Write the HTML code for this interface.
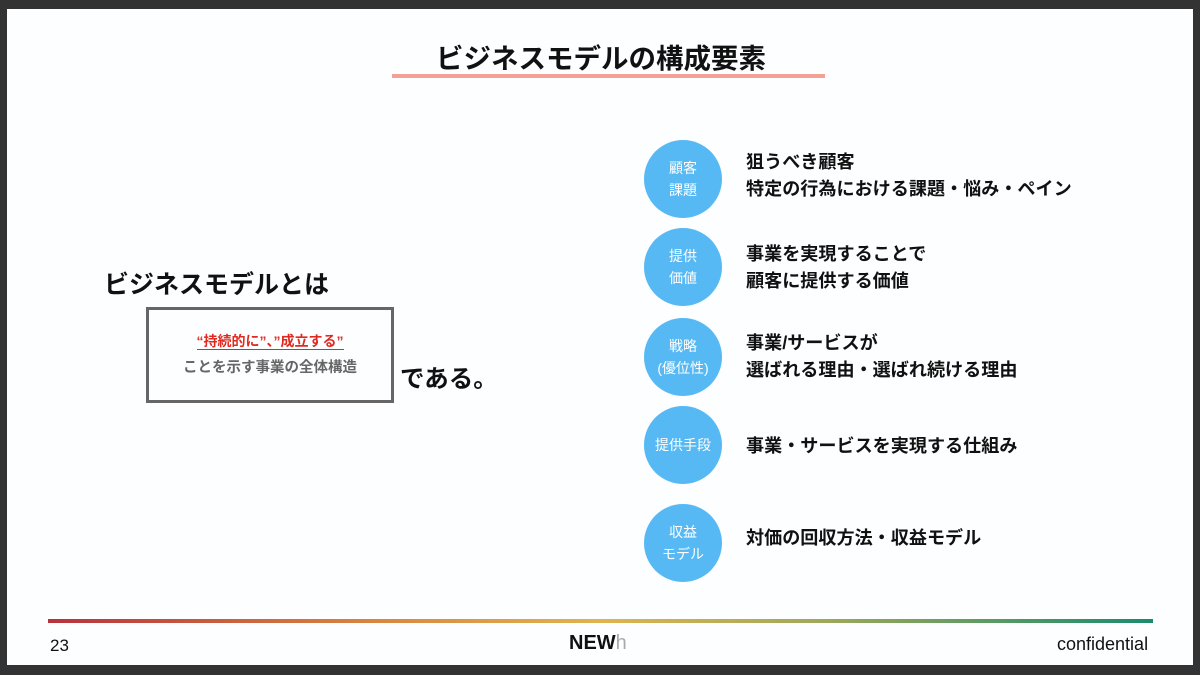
<!DOCTYPE html>
<html><head><meta charset="utf-8"><style>
body{margin:0;width:1200px;height:675px;background:#333;position:relative;overflow:hidden;font-family:"Liberation Sans","Noto Sans CJK JP",sans-serif}
.slide{position:absolute;left:7px;top:9px;width:1186px;height:656px;background:#fcfeff}
.a{position:absolute;white-space:nowrap}
.c{position:absolute;left:644px;width:78px;height:78px;border-radius:50%;background:#57b9f4;color:#fff;font-size:14px;line-height:22px;display:flex;align-items:center;justify-content:center;text-align:center}
.t{position:absolute;left:746px;font-size:18.1px;font-weight:bold;line-height:27px;color:#111}
</style></head><body>
<div class="slide"></div>
<div class="a" style="left:0;width:1202px;top:36px;text-align:center;font-size:27.5px;font-weight:bold;color:#111">ビジネスモデルの構成要素</div>
<div class="a" style="left:392px;top:74px;width:433px;height:4px;background:#f3a194"></div>
<div class="a" style="left:104px;top:265px;font-size:25px;font-weight:bold;color:#111">ビジネスモデルとは</div>
<div class="a" style="left:146px;top:307px;width:242px;height:90px;border:3px solid #666"></div>
<div class="a" style="left:146px;width:248px;top:331px;text-align:center;font-size:14px;font-weight:bold;color:#e02a20;"><span style="border-bottom:1.5px solid #e02a20">“持続的に”、”成立する”</span></div>
<div class="a" style="left:146px;width:248px;top:356px;text-align:center;font-size:14.5px;font-weight:bold;color:#666">ことを示す事業の全体構造</div>
<div class="a" style="left:400px;top:360px;font-size:24.5px;font-weight:bold;color:#111">である。</div>
<div class="c" style="top:140px">顧客<br>課題</div>
<div class="c" style="top:228px">提供<br>価値</div>
<div class="c" style="top:318px">戦略<br>(優位性)</div>
<div class="c" style="top:406px">提供手段</div>
<div class="c" style="top:504px">収益<br>モデル</div>
<div class="t" style="top:149px">狙うべき顧客<br>特定の行為における課題・悩み・ペイン</div>
<div class="t" style="top:241px">事業を実現することで<br>顧客に提供する価値</div>
<div class="t" style="top:330px">事業/サービスが<br>選ばれる理由・選ばれ続ける理由</div>
<div class="t" style="top:433px">事業・サービスを実現する仕組み</div>
<div class="t" style="top:525px">対価の回収方法・収益モデル</div>
<div class="a" style="left:48px;top:619px;width:1105px;height:4px;background:linear-gradient(90deg,#b8323d,#d9873f 30%,#dfb44e 50%,#9fa85a 70%,#198c6c)"></div>
<div class="a" style="left:50px;top:636px;font-size:17px;color:#111">23</div>
<div class="a" style="left:569px;top:632px;font-size:20px;font-weight:bold;color:#111">NEW<span style="font-weight:normal;color:#aaa">h</span></div>
<div class="a" style="left:1057px;top:634px;font-size:18px;color:#111">confidential</div>
</body></html>
